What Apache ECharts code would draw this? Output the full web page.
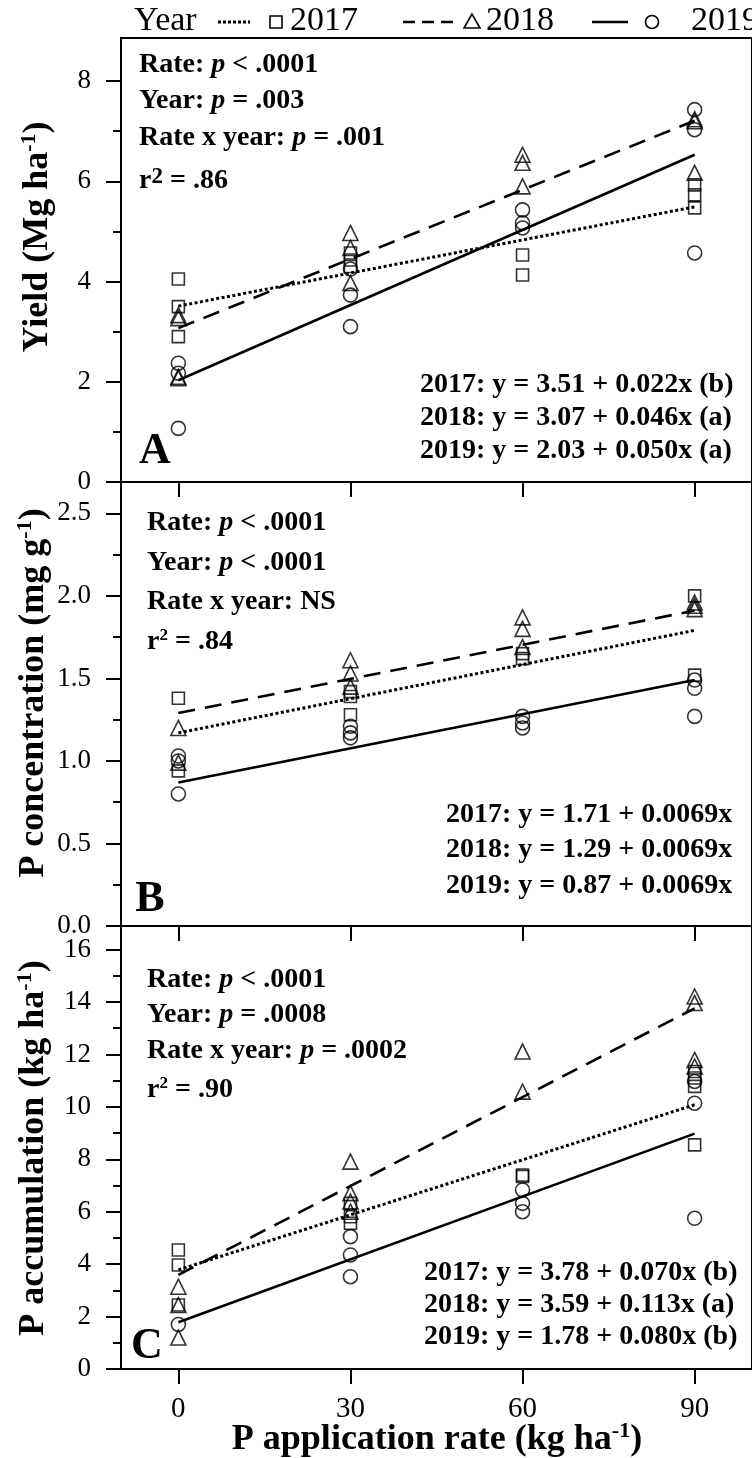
<!DOCTYPE html>
<html>
<head>
<meta charset="utf-8">
<script src="https://cdn.jsdelivr.net/npm/echarts@6/dist/echarts.min.js"></script>
<style>
  html, body { margin: 0; padding: 0; background: #fff; }
  #chart { width: 752px; height: 1458px; }
</style>
</head>
<body>
<div id="chart"></div>
<script>
// ---- data ---------------------------------------------------------------
const years = ['2017', '2018', '2019'];
const rateTicks = [0, 30, 60, 90];

// A: grain yield (Mg ha-1), [P rate, value]
const yield2017 = [[0,4.05],[0,3.5],[0,2.9],[30,4.57],[30,4.43],[30,4.3],[60,4.53],[60,4.13],[90,5.93],[90,5.73],[90,5.47]];
const yield2018 = [[0,3.33],[0,3.27],[0,2.1],[0,2.07],[30,4.97],[30,4.67],[30,3.97],[60,6.53],[60,6.37],[60,5.9],[90,7.24],[90,7.2],[90,6.17]];
const yield2019 = [[0,2.37],[0,2.17],[0,1.07],[30,4.25],[30,3.73],[30,3.1],[60,5.43],[60,5.17],[60,5.07],[90,7.43],[90,7.03],[90,4.57]];
const yieldIntercept = [3.51, 3.07, 2.03];
const yieldSlope = [0.022, 0.046, 0.050];
const yieldTicks = [0, 2, 4, 6, 8];
const yieldMinor = [1, 3, 5, 7];

// B: P concentration (mg g-1)
const conc2017 = [[0,1.38],[0,0.94],[30,1.42],[30,1.39],[30,1.28],[60,1.65],[60,1.62],[90,2.0],[90,1.52]];
const conc2018 = [[0,1.2],[0,0.99],[30,1.61],[30,1.53],[30,1.45],[60,1.87],[60,1.8],[60,1.69],[90,1.96],[90,1.94],[90,1.92]];
const conc2019 = [[0,1.03],[0,1.0],[0,0.8],[30,1.21],[30,1.17],[30,1.14],[60,1.27],[60,1.23],[60,1.2],[90,1.49],[90,1.44],[90,1.27]];
const concIntercept = [1.17, 1.29, 0.87];
const concSlope = [0.0069, 0.0069, 0.0069];
const concTicks = [0, 0.5, 1.0, 1.5, 2.0, 2.5];
const concMinor = [0.25, 0.75, 1.25, 1.75, 2.25];

// C: P accumulation (kg ha-1)
const acc2017 = [[0,4.54],[0,3.97],[0,2.44],[30,6.32],[30,5.81],[30,5.56],[60,7.4],[60,7.35],[90,11.35],[90,11.1],[90,10.78],[90,8.55]];
const acc2018 = [[0,3.14],[0,2.44],[0,1.2],[30,7.91],[30,6.71],[30,6.39],[30,6.0],[60,12.11],[60,10.58],[90,14.21],[90,13.96],[90,11.79],[90,11.54]];
const acc2019 = [[0,1.7],[30,5.05],[30,4.35],[30,3.52],[60,6.83],[60,6.32],[60,6.0],[90,10.97],[90,10.14],[90,5.75]];
const accIntercept = [3.78, 3.59, 1.78];
const accSlope = [0.070, 0.113, 0.080];
const accTicks = [0, 2, 4, 6, 8, 10, 12, 14, 16];
const accMinor = [1, 3, 5, 7, 9, 11, 13, 15];

// annotation text
const statsA = [['Rate: ', 'p', ' < .0001'], ['Year: ', 'p', ' = .003'], ['Rate x year: ', 'p', ' = .001']];
const statsB = [['Rate: ', 'p', ' < .0001'], ['Year: ', 'p', ' < .0001'], ['Rate x year: NS', '', '']];
const statsC = [['Rate: ', 'p', ' < .0001'], ['Year: ', 'p', ' = .0008'], ['Rate x year: ', 'p', ' = .0002']];
const r2Text = ['.86', '.84', '.90'];
const eqA = ['2017: y = 3.51 + 0.022x (b)', '2018: y = 3.07 + 0.046x (a)', '2019: y = 2.03 + 0.050x (a)'];
const eqB = ['2017: y = 1.71 + 0.0069x', '2018: y = 1.29 + 0.0069x', '2019: y = 0.87 + 0.0069x'];
const eqC = ['2017: y = 3.78 + 0.070x (b)', '2018: y = 3.59 + 0.113x (a)', '2019: y = 1.78 + 0.080x (b)'];

// ---- styling ------------------------------------------------------------
const SERIF = '"Liberation Serif", "Times New Roman", serif';
const BLACK = '#000';
const symbols = ['rect', 'triangle', 'circle'];
const symbolSizes = [12, 15, 14];
const lineDashes = [[3, 2.5], [17, 10], 'solid'];
const lineWidths = [3, 2.6, 2.6];

const panels = [
  { top: 38,  height: 444, max: 8.86, ticks: yieldTicks, minor: yieldMinor, fmt: v => String(v),
    pts: [yield2017, yield2018, yield2019], a: yieldIntercept, b: yieldSlope },
  { top: 482, height: 444, max: 2.69, ticks: concTicks, minor: concMinor, fmt: v => v.toFixed(1),
    pts: [conc2017, conc2018, conc2019], a: concIntercept, b: concSlope },
  { top: 926, height: 443, max: 16.9, ticks: accTicks, minor: accMinor, fmt: v => String(v),
    pts: [acc2017, acc2018, acc2019], a: accIntercept, b: accSlope }
];

const axisLine = { show: true, onZero: false, lineStyle: { color: BLACK, width: 2 } };
const tickLine = { color: BLACK, width: 2 };

const grid = [], xAxis = [], yAxis = [], series = [];
panels.forEach((p, i) => {
  grid.push({ left: 121, width: 636, top: p.top, height: p.height, show: true,
              borderColor: BLACK, borderWidth: 2, backgroundColor: 'transparent' });
  xAxis.push({
    gridIndex: i, type: 'value', min: -10, max: 100,
    axisLine: axisLine,
    axisTick: { show: true, length: 15, customValues: rateTicks, lineStyle: tickLine },
    axisLabel: { show: i === 2, customValues: rateTicks, margin: 26, fontFamily: SERIF, fontSize: 29, color: BLACK },
    splitLine: { show: false }
  });
  yAxis.push({
    gridIndex: i, type: 'value', min: 0, max: p.max, position: 'left',
    axisLine: axisLine,
    axisTick: { show: true, length: 15, customValues: p.ticks, lineStyle: tickLine },
    axisLabel: { customValues: p.ticks, formatter: p.fmt, margin: 30, fontFamily: SERIF, fontSize: 27, color: BLACK },
    splitLine: { show: false }
  });
});
// minor ticks on their own overlay axes, pinned to the left edge
panels.forEach((p, i) => {
  yAxis.push({
    gridIndex: i, type: 'value', min: 0, max: p.max, position: 'left',
    axisLine: { show: false, onZero: false },
    axisTick: { show: true, length: 8, customValues: p.minor, lineStyle: tickLine },
    axisLabel: { show: false },
    splitLine: { show: false }
  });
});

panels.forEach((p, i) => {
  years.forEach((yr, k) => {
    // regression line drawn from intercept and slope
    series.push({
      type: 'line', name: yr, xAxisIndex: i, yAxisIndex: i, silent: true,
      showSymbol: false, symbol: 'none',
      lineStyle: { color: BLACK, width: lineWidths[k], type: lineDashes[k] },
      data: [[0, p.a[k]], [90, p.a[k] + 90 * p.b[k]]], z: 2
    });
    series.push({
      type: 'scatter', name: yr, xAxisIndex: i, yAxisIndex: i, silent: true,
      symbol: symbols[k], symbolSize: symbolSizes[k],
      itemStyle: { color: 'rgba(0,0,0,0)', borderColor: BLACK, borderWidth: 1.6 },
      data: p.pts[k], z: 3
    });
  });
});

// ---- text and legend ----------------------------------------------------
const FS = 28;
const rich = {
  b: { fontFamily: SERIF, fontWeight: 'bold', fontSize: FS, color: BLACK, lineHeight: 30 },
  i: { fontFamily: SERIF, fontWeight: 'bold', fontStyle: 'italic', fontSize: FS, color: BLACK, lineHeight: 30 },
  s: { fontFamily: SERIF, fontWeight: 'bold', fontSize: 17, color: BLACK, lineHeight: 14, verticalAlign: 'top' },
  S: { fontFamily: SERIF, fontWeight: 'bold', fontSize: 23, color: BLACK, lineHeight: 16, verticalAlign: 'top' },
  t: { fontFamily: SERIF, fontWeight: 'bold', fontSize: 36, color: BLACK, lineHeight: 40 },
  u: { fontFamily: SERIF, fontWeight: 'bold', fontSize: 22, color: BLACK, lineHeight: 18, verticalAlign: 'top' }
};

function richText(x, y, text, extra) {
  return Object.assign({
    type: 'text', x: x, y: y, silent: true,
    style: { text: text, rich: rich, align: 'left', verticalAlign: 'middle' }
  }, extra || {});
}
function statLine(parts) {
  let s = '{b|' + parts[0] + '}';
  if (parts[1]) s += '{i|' + parts[1] + '}';
  if (parts[2]) s += '{b|' + parts[2] + '}';
  return s;
}

const graphics = [];
const statBlocks = [
  { x: 139, ys: [65, 101, 138, 181], lines: statsA, sup: 'S' },
  { x: 147, ys: [523, 563, 602, 642], lines: statsB, sup: 's' },
  { x: 147, ys: [980, 1015, 1051, 1090], lines: statsC, sup: 's' }
];
statBlocks.forEach((blk, i) => {
  blk.lines.forEach((ln, j) => graphics.push(richText(blk.x, blk.ys[j], statLine(ln))));
  graphics.push(richText(blk.x, blk.ys[3], '{b|r}{' + blk.sup + '|2}{b| = ' + r2Text[i] + '}'));
});

const eqBlocks = [
  { x: 420, ys: [385, 418, 451], lines: eqA },
  { x: 446, ys: [815, 850, 886], lines: eqB },
  { x: 424, ys: [1273, 1305, 1337], lines: eqC }
];
eqBlocks.forEach(blk => blk.lines.forEach((ln, j) => graphics.push(richText(blk.x, blk.ys[j], '{b|' + ln + '}'))));

// panel letters
[['A', 155, 452], ['B', 150, 900], ['C', 147, 1347]].forEach(([t, x, y]) => {
  graphics.push({ type: 'text', x: x, y: y, silent: true,
    style: { text: t, font: 'bold 44px ' + SERIF, fill: BLACK, align: 'center', verticalAlign: 'middle' } });
});

// axis titles
const yTitles = [
  ['{t|Yield (Mg ha}{u|-1}{t|)}', 38, 237],
  ['{t|P concentration (mg g}{u|-1}{t|)}', 34, 693],
  ['{t|P accumulation (kg ha}{u|-1}{t|)}', 34, 1148]
];
yTitles.forEach(([t, x, y]) => {
  graphics.push({ type: 'text', x: x, y: y, rotation: Math.PI / 2, silent: true,
    style: { text: t, rich: rich, align: 'center', verticalAlign: 'middle' } });
});
graphics.push({ type: 'text', x: 437, y: 1440, silent: true,
  style: { text: '{t|P application rate (kg ha}{u|-1}{t|)}', rich: rich, align: 'center', verticalAlign: 'middle' } });

// legend row
const legY = 22;
const legFont = '34px ' + SERIF;
function legText(x, t) {
  return { type: 'text', x: x, y: legY - 1, silent: true,
    style: { text: t, font: legFont, fill: BLACK, align: 'left', verticalAlign: 'middle' } };
}
graphics.push(legText(134, 'Year'));
graphics.push({ type: 'line', silent: true, shape: { x1: 218, y1: legY, x2: 250, y2: legY },
  style: { stroke: BLACK, lineWidth: 3, lineDash: [3, 2] } });
graphics.push({ type: 'rect', silent: true, shape: { x: 270, y: legY - 6, width: 12, height: 12 },
  style: { fill: 'none', stroke: BLACK, lineWidth: 1.6 } });
graphics.push(legText(290, '2017'));
graphics.push({ type: 'line', silent: true, shape: { x1: 403, y1: legY, x2: 453, y2: legY },
  style: { stroke: BLACK, lineWidth: 2.5, lineDash: [12, 7] } });
graphics.push({ type: 'polygon', silent: true, shape: { points: [[472, legY - 8], [464, legY + 6], [480, legY + 6]] },
  style: { fill: 'none', stroke: BLACK, lineWidth: 1.6 } });
graphics.push(legText(486, '2018'));
graphics.push({ type: 'line', silent: true, shape: { x1: 592, y1: legY, x2: 628, y2: legY },
  style: { stroke: BLACK, lineWidth: 2.5 } });
graphics.push({ type: 'circle', silent: true, shape: { cx: 652, cy: legY, r: 6.5 },
  style: { fill: 'none', stroke: BLACK, lineWidth: 1.6 } });
graphics.push(legText(691, '2019'));

const chart = echarts.init(document.getElementById('chart'), null, { renderer: 'canvas' });
chart.setOption({
  animation: false,
  backgroundColor: '#fff',
  grid: grid,
  xAxis: xAxis,
  yAxis: yAxis,
  series: series,
  graphic: { elements: graphics }
});
</script>
</body>
</html>
